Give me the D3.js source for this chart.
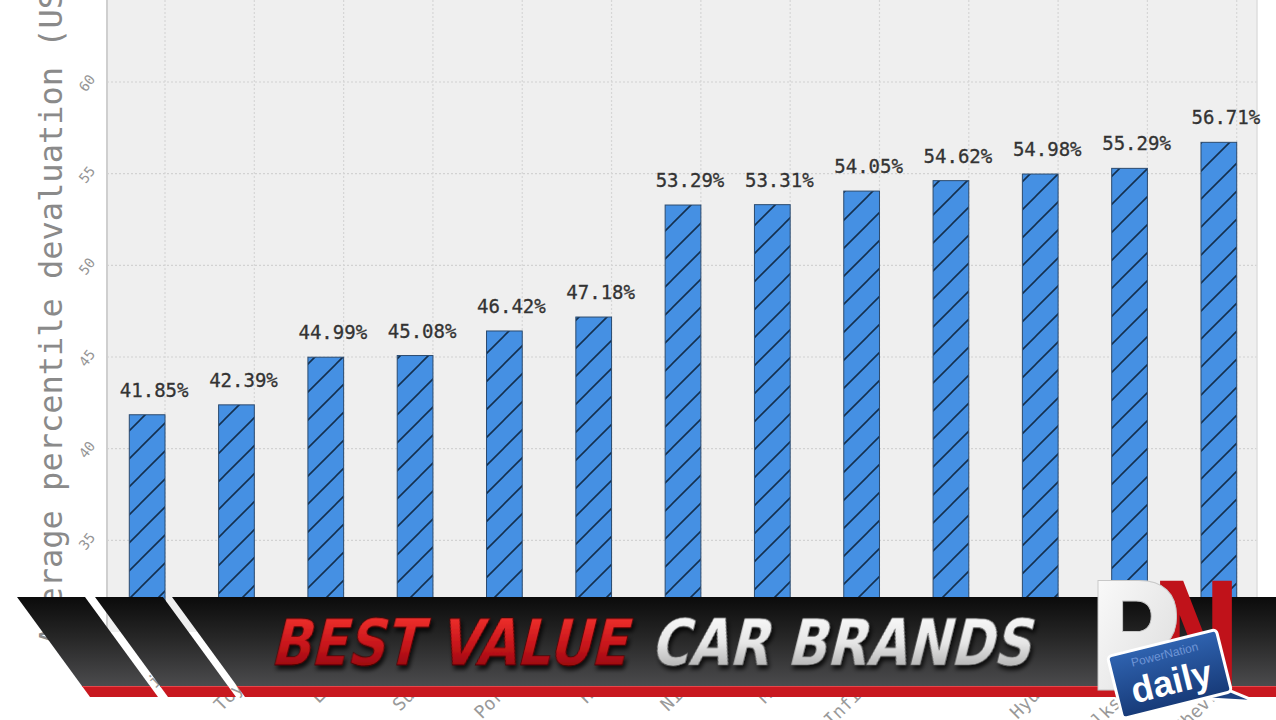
<!DOCTYPE html>
<html lang="en">
<head>
<meta charset="utf-8">
<title>Best value car brands</title>
<script src="https://cdn.jsdelivr.net/npm/d3@7"></script>
<style>
    body { margin: 0; background: #fff; overflow: hidden; }
    svg { display: block; }
    .mono { font-family: "DejaVu Sans Mono", monospace; }
</style>
</head>
<body>
<div id="viz"></div>
<script>

    // data
    var brands = ["Fiat", "Toyota", "Lexus", "Subaru", "Porsche", "Honda", "Nissan",
        "Mazda", "Infiniti", "Kia", "Hyundai", "Volkswagen", "Chevrolet"];
    var devaluation = [41.85, 42.39, 44.99, 45.08, 46.42, 47.18, 53.29,
        53.31, 54.05, 54.62, 54.98, 55.29, 56.71];
    var yTicks = [35, 40, 45, 50, 55, 60, 65];
    var yTitle = "Average percentile devaluation (USD)";
    var bannerRed = "BEST VALUE";
    var bannerWhite = "CAR BRANDS";

    var width = 1276, height = 720;
    var plotLeft = 107, plotRight = 1257, plotTop = -12, plotBottom = 632;

    var data = brands.map(function (b, i) { return {brand: b, value: devaluation[i]}; });

    var x = d3.scaleBand().domain(brands).range([102.5, 1263.5]);
    var y = d3.scaleLinear().domain([30, 65]).range([plotBottom, -9.65]);
    var step = x.step();

    var svg = d3.select("#viz").append("svg")
        .attr("width", width).attr("height", height);

    var defs = svg.append("defs");

    // hatch for the bars
    var hatch = defs.append("pattern")
        .attr("id", "hatch")
        .attr("patternUnits", "userSpaceOnUse")
        .attr("width", 28).attr("height", 28);
    hatch.append("rect").attr("width", 28).attr("height", 28).attr("fill", "#4590e3");
    hatch.append("path")
        .attr("d", "M0,28 L28,0 M-7,7 L7,-7 M21,35 L35,21")
        .attr("stroke", "#14304f").attr("stroke-width", 1.6);

    // plot background
    svg.append("rect")
        .attr("x", plotLeft).attr("y", plotTop)
        .attr("width", plotRight - plotLeft).attr("height", plotBottom - plotTop)
        .attr("fill", "#efefef");

    // grid
    svg.append("g").selectAll("line")
        .data(yTicks)
        .enter().append("line")
        .attr("x1", plotLeft).attr("x2", plotRight)
        .attr("y1", d => y(d)).attr("y2", d => y(d))
        .attr("stroke", "#d2d2d2").attr("stroke-width", 1.2)
        .attr("stroke-dasharray", "2,2");

    svg.append("g").selectAll("line")
        .data(brands)
        .enter().append("line")
        .attr("x1", d => x(d) + step * 0.7).attr("x2", d => x(d) + step * 0.7)
        .attr("y1", plotTop).attr("y2", plotBottom)
        .attr("stroke", "#d6d6d6").attr("stroke-width", 1.2)
        .attr("stroke-dasharray", "2,2");

    svg.append("line")
        .attr("x1", plotLeft).attr("x2", plotLeft)
        .attr("y1", plotTop).attr("y2", plotBottom)
        .attr("stroke", "#cfcfcf").attr("stroke-width", 2);
    svg.append("line")
        .attr("x1", plotRight).attr("x2", plotRight)
        .attr("y1", plotTop).attr("y2", plotBottom)
        .attr("stroke", "#dedede").attr("stroke-width", 1.5);

    // y tick labels, tilted
    svg.append("g").selectAll("text")
        .data(yTicks.slice(0, 6))
        .enter().append("text")
        .attr("class", "mono")
        .attr("transform", d => "translate(87," + (y(d) + 1) + ") rotate(-52)")
        .attr("text-anchor", "middle")
        .attr("dy", "0.35em")
        .attr("font-size", 14)
        .attr("fill", "#959595")
        .text(d => d);

    // y title
    svg.append("text")
        .attr("class", "mono")
        .attr("transform", "translate(62,645) rotate(-90)")
        .attr("font-size", 32)
        .attr("fill", "#8a8a8a")
        .text(yTitle);

    // bars
    svg.append("g").selectAll("rect")
        .data(data)
        .enter().append("rect")
        .attr("x", d => x(d.brand) + step * 0.3)
        .attr("y", d => y(d.value))
        .attr("width", step * 0.4)
        .attr("height", d => plotBottom - y(d.value))
        .attr("fill", "url(#hatch)")
        .attr("stroke", "#2b4a6e").attr("stroke-width", 1);

    // value labels
    svg.append("g").selectAll("text")
        .data(data)
        .enter().append("text")
        .attr("class", "mono")
        .attr("x", d => x(d.brand) + step / 2 + 7)
        .attr("y", d => y(d.value) - 18)
        .attr("text-anchor", "middle")
        .attr("font-size", 19)
        .attr("fill", "#333")
        .attr("stroke", "#333").attr("stroke-width", 0.3)
        .text(d => d.value.toFixed(2) + "%");

    // category labels (mostly under the banner)
    svg.append("g").selectAll("text")
        .data(brands)
        .enter().append("text")
        .attr("class", "mono")
        .attr("transform", d => "translate(" + (x(d) + step / 2 + 31) + ",666) rotate(-45)")
        .attr("text-anchor", "end")
        .attr("font-size", 18)
        .attr("fill", "#999")
        .text(d => d);

    // ---- banner overlay ----
    var bg = defs.append("linearGradient").attr("id", "bannerGrad")
        .attr("x1", 0).attr("y1", 0).attr("x2", 0).attr("y2", 1);
    bg.append("stop").attr("offset", "0%").attr("stop-color", "#0b0b0b");
    bg.append("stop").attr("offset", "45%").attr("stop-color", "#262626");
    bg.append("stop").attr("offset", "100%").attr("stop-color", "#4b4b4d");

    var redGrad = defs.append("linearGradient").attr("id", "redGrad")
        .attr("x1", 0).attr("y1", 0).attr("x2", 0).attr("y2", 1);
    redGrad.append("stop").attr("offset", "0%").attr("stop-color", "#ff3a32");
    redGrad.append("stop").attr("offset", "55%").attr("stop-color", "#c4141a");
    redGrad.append("stop").attr("offset", "100%").attr("stop-color", "#7e0508");

    var silverGrad = defs.append("linearGradient").attr("id", "silverGrad")
        .attr("x1", 0).attr("y1", 0).attr("x2", 0).attr("y2", 1);
    silverGrad.append("stop").attr("offset", "0%").attr("stop-color", "#ffffff");
    silverGrad.append("stop").attr("offset", "50%").attr("stop-color", "#e6e6e6");
    silverGrad.append("stop").attr("offset", "100%").attr("stop-color", "#9a9a9a");

    var blueGrad = defs.append("linearGradient").attr("id", "blueGrad")
        .attr("x1", 0).attr("y1", 0).attr("x2", 0).attr("y2", 1);
    blueGrad.append("stop").attr("offset", "0%").attr("stop-color", "#2f63b0");
    blueGrad.append("stop").attr("offset", "100%").attr("stop-color", "#173a78");

    var pGrad = defs.append("linearGradient").attr("id", "pGrad")
        .attr("x1", 0).attr("y1", 0).attr("x2", 1).attr("y2", 1);
    pGrad.append("stop").attr("offset", "0%").attr("stop-color", "#ffffff");
    pGrad.append("stop").attr("offset", "100%").attr("stop-color", "#d8d8d8");

    var shadow = defs.append("filter").attr("id", "shadow")
        .attr("x", "-10%").attr("y", "-20%").attr("width", "130%").attr("height", "150%");
    shadow.append("feDropShadow")
        .attr("dx", 3).attr("dy", 4).attr("stdDeviation", 2)
        .attr("flood-color", "#000").attr("flood-opacity", 0.75);

    var bTop = 597, darkBottom = 686, bBottom = 697, slant = 0.73;
    var banner = svg.append("g");

    function piece(x0, x1, xr) {
        // parallelogram hanging from top edge [x0,x1]; xr gives a straight right side
        var dy = darkBottom - bTop;
        var rx0 = x0 + dy * slant, rx1 = xr ? xr : x1 + dy * slant;
        banner.append("path")
            .attr("d", "M" + x0 + "," + bTop + " L" + x1 + "," + bTop +
                " L" + rx1 + "," + darkBottom + " L" + rx0 + "," + darkBottom + " Z")
            .attr("fill", "url(#bannerGrad)");
        var h = bBottom - darkBottom;
        banner.append("path")
            .attr("d", "M" + rx0 + "," + darkBottom + " L" + rx1 + "," + darkBottom +
                " L" + (xr ? xr : rx1 + h * slant) + "," + bBottom +
                " L" + (rx0 + h * slant) + "," + bBottom + " Z")
            .attr("fill", "#c8181f");
        banner.append("line")
            .attr("x1", rx0).attr("x2", rx1)
            .attr("y1", darkBottom + 0.5).attr("y2", darkBottom + 0.5)
            .attr("stroke", "#e8454a").attr("stroke-width", 1);
    }

    piece(17, 85);
    piece(95, 163);
    piece(172, 1276, 1276);

    var redText = banner.append("g")
        .attr("transform", "translate(270,665) skewX(-14)");
    redText.append("text")
        .attr("font-family", "DejaVu Sans")
        .attr("font-weight", "bold")
        .attr("font-size", 64)
        .attr("textLength", 356)
        .attr("lengthAdjust", "spacingAndGlyphs")
        .attr("fill", "url(#redGrad)")
        .attr("stroke", "#4a0000").attr("stroke-width", 0.8)
        .attr("filter", "url(#shadow)")
        .text(bannerRed);

    var whiteText = banner.append("g")
        .attr("transform", "translate(650,665) skewX(-14)");
    whiteText.append("text")
        .attr("font-family", "DejaVu Sans")
        .attr("font-weight", "bold")
        .attr("font-size", 64)
        .attr("textLength", 380)
        .attr("lengthAdjust", "spacingAndGlyphs")
        .attr("fill", "url(#silverGrad)")
        .attr("stroke", "#555").attr("stroke-width", 0.6)
        .attr("filter", "url(#shadow)")
        .text(bannerWhite);

    // PN daily logo
    var logo = svg.append("g");
    logo.append("text")
        .attr("x", 1150).attr("y", 690)
        .attr("font-family", "DejaVu Sans")
        .attr("font-weight", "bold")
        .attr("font-size", 150)
        .attr("textLength", 92)
        .attr("lengthAdjust", "spacingAndGlyphs")
        .attr("fill", "#c0121a")
        .text("N");
    logo.append("text")
        .attr("x", 1086).attr("y", 690)
        .attr("font-family", "DejaVu Sans")
        .attr("font-weight", "bold")
        .attr("font-size", 150)
        .attr("textLength", 96)
        .attr("lengthAdjust", "spacingAndGlyphs")
        .attr("fill", "url(#pGrad)")
        .attr("stroke", "#c8c8c8").attr("stroke-width", 1)
        .text("P");

    var badge = logo.append("g")
        .attr("transform", "translate(1170,676) rotate(-14)");
    badge.append("path")
        .attr("d", "M20,28 L78,46 L48,24 Z")
        .attr("fill", "#1d4282").attr("stroke", "#fff").attr("stroke-width", 3);
    badge.append("rect")
        .attr("x", -56).attr("y", -34)
        .attr("width", 112).attr("height", 64)
        .attr("rx", 4)
        .attr("fill", "url(#blueGrad)")
        .attr("stroke", "#fff").attr("stroke-width", 3);
    badge.append("text")
        .attr("x", 0).attr("y", -18)
        .attr("text-anchor", "middle")
        .attr("font-family", "Liberation Sans, Arial, sans-serif")
        .attr("font-size", 12)
        .attr("fill", "#6f95d6")
        .text("PowerNation");
    badge.append("text")
        .attr("x", 0).attr("y", 18)
        .attr("text-anchor", "middle")
        .attr("font-family", "Liberation Sans, Arial, sans-serif")
        .attr("font-weight", "bold")
        .attr("font-size", 36)
        .attr("fill", "#fff")
        .text("daily");

</script>
</body>
</html>
